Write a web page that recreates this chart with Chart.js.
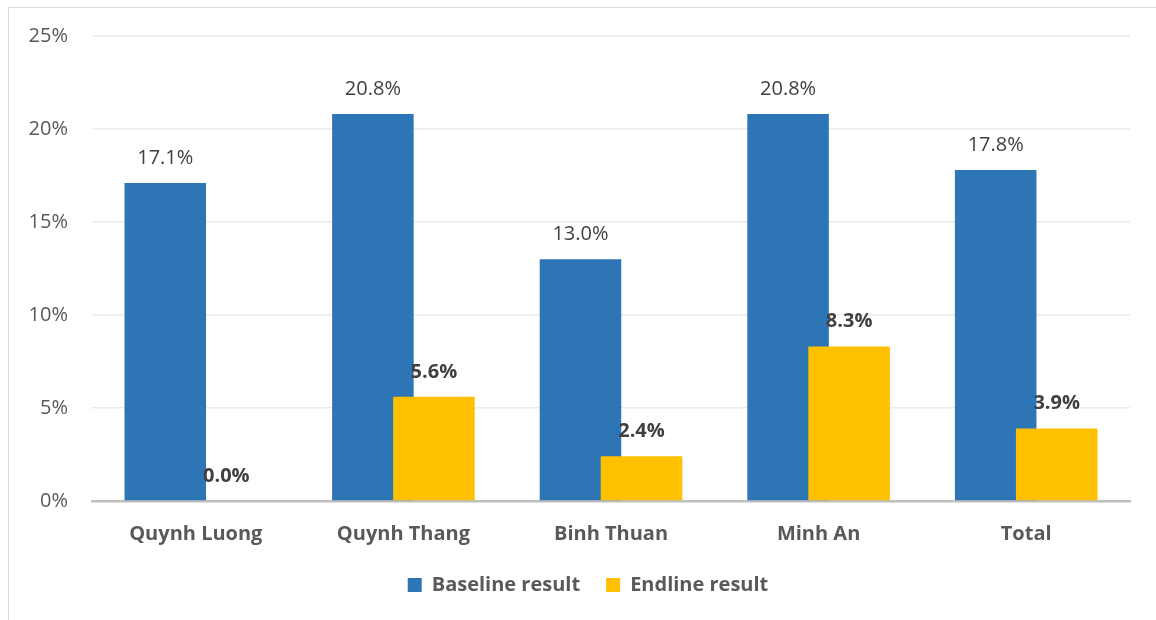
<!DOCTYPE html>
<html>
<head>
<meta charset="utf-8">
<script src="https://cdn.jsdelivr.net/npm/chart.js@4/dist/chart.umd.min.js"></script>
<style>
  html, body { margin: 0; padding: 0; background: #fff; }
  #wrap { position: relative; width: 1156px; height: 620px; overflow: hidden; }
  #frame { position: absolute; left: 8px; top: 7px; width: 1200px; height: 700px;
           border-left: 1px solid #d9d9d9; border-top: 1px solid #d9d9d9; pointer-events: none; }
  canvas { position: absolute; left: 0; top: 0; }
</style>
</head>
<body>
<div id="wrap">
  <canvas id="c" width="1156" height="620"></canvas>
  <div id="frame"></div>
</div>
<script>
const categories = ['Quynh Luong', 'Quynh Thang', 'Binh Thuan', 'Minh An', 'Total'];
const baselineValues = [17.1, 20.8, 13.0, 20.8, 17.8];
const endlineValues = [0.0, 5.6, 2.4, 8.3, 3.9];
const seriesNames = ['Baseline result', 'Endline result'];
const yTicks = [0, 5, 10, 15, 20, 25];

const FONT = "'Open Sans', sans-serif";

// Draw dataset 1 (yellow) after dataset 0 so it sits on top of the overlap
const drawOrderPlugin = {
  id: 'drawOrder',
  beforeDatasetDraw(chart, args) {
    if (args.index === 1 && !chart.$lateDraw) return false;
  },
  afterDatasetsDraw(chart) {
    chart.$lateDraw = true;
    const meta = chart.getDatasetMeta(1);
    if (meta && meta.visible !== false) meta.controller.draw();
    chart.$lateDraw = false;
  }
};

// Nudge the legend box a little to the right, as in the original layout
const legendShiftPlugin = {
  id: 'legendShift',
  afterLayout(chart) {
    const lg = chart.legend;
    if (lg) { lg.left += 23; lg.right += 23; }
  }
};

const labelPlugin = {
  id: 'barLabels',
  afterDatasetsDraw(chart) {
    const ctx = chart.ctx;
    ctx.save();
    ctx.textAlign = 'center';
    ctx.textBaseline = 'middle';
    ctx.fillStyle = '#404040';
    chart.data.datasets.forEach((ds, di) => {
      const meta = chart.getDatasetMeta(di);
      ctx.font = (di === 1 ? 'bold ' : '') + '20px ' + FONT;
      meta.data.forEach((bar, i) => {
        ctx.fillText(ds.data[i].toFixed(1) + '%', bar.x, bar.y - 25);
      });
    });
    ctx.restore();
  }
};

new Chart(document.getElementById('c'), {
  type: 'bar',
  data: {
    labels: categories,
    datasets: [
      { label: seriesNames[0], data: baselineValues, backgroundColor: '#2E75B6', borderWidth: 0 },
      { label: seriesNames[1], data: endlineValues, backgroundColor: '#FFC000', borderWidth: 0 }
    ]
  },
  options: {
    responsive: false,
    animation: false,
    devicePixelRatio: 1,
    categoryPercentage: 0.588,
    barPercentage: 1.336,
    layout: { padding: { top: 36, right: 26, left: 0, bottom: 15 } },
    plugins: {
      tooltip: { enabled: false },
      legend: {
        position: 'bottom',
        labels: {
          boxWidth: 14, boxHeight: 14, padding: 26,
          color: '#595959',
          font: { family: FONT, size: 20, weight: 'bold' }
        }
      }
    },
    scales: {
      x: {
        grid: { display: false, drawTicks: false },
        border: { display: true, color: '#bfbfbf', width: 2.5 },
        ticks: { color: '#595959', padding: 21, font: { family: FONT, size: 20, weight: 'bold' } },
        afterFit(scale) { scale.height = 48; }
      },
      y: {
        min: 0, max: 25,
        afterBuildTicks(scale) { scale.ticks = yTicks.map(v => ({ value: v })); },
        grid: { color: '#ececec', lineWidth: 1.5, drawTicks: false },
        border: { display: false },
        ticks: {
          color: '#595959', padding: 24,
          font: { family: FONT, size: 20 },
          callback: v => v + '%'
        },
        afterFit(scale) { scale.width = 92; }
      }
    }
  },
  plugins: [drawOrderPlugin, legendShiftPlugin, labelPlugin]
});
</script>
</body>
</html>
